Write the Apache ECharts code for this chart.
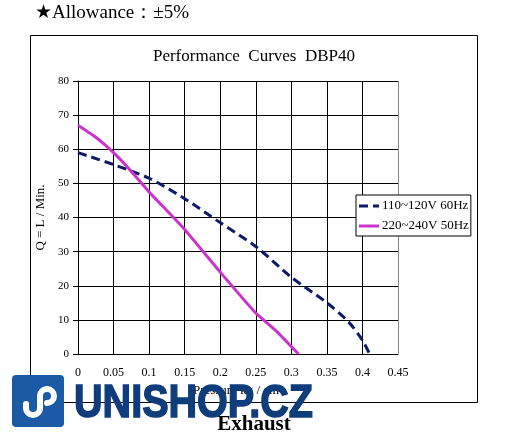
<!DOCTYPE html>
<html>
<head>
<meta charset="utf-8">
<script src="https://cdn.jsdelivr.net/npm/echarts@6/dist/echarts.min.js"></script>
<style>
  html, body { margin: 0; padding: 0; background: #fff; }
  #main { width: 508px; height: 440px; }
</style>
</head>
<body>
<div id="main"></div>
<script>
  // pressure (kg/cm2) vs flow (L/min)
  const press60 = [0, 0.05, 0.1, 0.15, 0.2, 0.25, 0.3, 0.35, 0.38, 0.4, 0.41]
  const flow60 = [59, 55.5, 51.5, 45.5, 38.5, 31.5, 22.5, 15, 9.5, 4, 0]
  const press50 = [0, 0.025, 0.05, 0.075, 0.1, 0.15, 0.2, 0.25, 0.28, 0.31]
  const flow50 = [67, 63.5, 59, 53.5, 47.5, 36.5, 24, 12, 6.5, 0]
  const seriesNames = ['110~120V 60Hz', '220~240V 50Hz']

  const serif = '"Liberation Serif", "DejaVu Serif", serif'
  const pairs = (xs, ys) => xs.map((x, i) => [x, ys[i]])

  // last vertical grid line (0.45) is grey in the original
  const xSplitColors = ['#000', '#000', '#000', '#000', '#000', '#000', '#000', '#000', '#000', '#888']

  const white = { fill: 'none', stroke: '#fff', lineWidth: 6, lineCap: 'round' }

  const chart = echarts.init(document.getElementById('main'))
  chart.setOption({
    animation: false,
    backgroundColor: '#fff',
    title: {
      text: 'Performance  Curves  DBP40',
      left: 'center',
      top: 43,
      textStyle: { fontFamily: serif, fontSize: 17, fontWeight: 'normal', color: '#000' }
    },
    legend: {
      left: 356,
      top: 195,
      orient: 'vertical',
      itemGap: 6,
      itemWidth: 22,
      itemHeight: 3,
      padding: [4, 2, 3, 3],
      borderColor: '#000',
      borderWidth: 1,
      backgroundColor: '#fff',
      textStyle: { fontFamily: serif, fontSize: 13, color: '#000', padding: [0, 0, 0, -3], lineHeight: 14 },
      data: [
        { name: seriesNames[0], icon: 'path://M0,0 H9 V3 H0 Z M14,0 H20 V3 H14 Z' },
        { name: seriesNames[1], icon: 'path://M0,0 H20 V3 H0 Z' }
      ]
    },
    grid: { left: 78, top: 81, right: 110, bottom: 86 },
    xAxis: {
      type: 'value',
      min: 0,
      max: 0.45,
      interval: 0.05,
      name: 'Pressure kg / cm²',
      nameLocation: 'middle',
      nameGap: 28,
      nameTextStyle: { fontFamily: serif, fontSize: 13, color: '#000' },
      axisLine: { lineStyle: { color: '#000', width: 1 } },
      axisTick: { show: false },
      axisLabel: { fontFamily: serif, fontSize: 12, color: '#000', margin: 13 },
      splitLine: { show: true, lineStyle: { color: xSplitColors, width: 1 } }
    },
    yAxis: {
      type: 'value',
      min: 0,
      max: 80,
      interval: 10,
      name: 'Q = L / Min.',
      nameLocation: 'middle',
      nameGap: 30,
      nameTextStyle: { fontFamily: serif, fontSize: 13, color: '#000' },
      axisLine: { show: true, lineStyle: { color: '#000', width: 1 } },
      axisTick: { show: true, length: 5, lineStyle: { color: '#000' } },
      axisLabel: { fontFamily: serif, fontSize: 11, color: '#000', margin: 9 },
      splitLine: { show: true, lineStyle: { color: '#000', width: 1 } }
    },
    series: [
      {
        name: seriesNames[0],
        type: 'line',
        smooth: 0.3,
        symbol: 'none',
        data: pairs(press60, flow60),
        itemStyle: { color: '#0d1a66' },
        lineStyle: { color: '#0d1a66', width: 3, type: [9, 5] }
      },
      {
        name: seriesNames[1],
        type: 'line',
        smooth: 0.1,
        symbol: 'none',
        data: pairs(press50, flow50),
        itemStyle: { color: '#cc33cc' },
        lineStyle: { color: '#cc33cc', width: 3 }
      }
    ],
    graphic: [
      // outer frame
      {
        type: 'rect', z: -1,
        shape: { x: 30.5, y: 35.5, width: 447, height: 367 },
        style: { fill: 'none', stroke: '#000', lineWidth: 1 }
      },
      {
        type: 'text', x: 35, y: 4,
        style: { text: '★Allowance：±5%', font: '19px ' + serif, fill: '#000' }
      },
      {
        type: 'text', x: 254, y: 414,
        style: { text: 'Exhaust', font: 'bold 21px ' + serif, fill: '#000', align: 'center' }
      },
      // watermark logo
      {
        type: 'rect', z: 100,
        shape: { x: 12, y: 375, width: 52, height: 52, r: 4 },
        style: { fill: '#1c5aa6' }
      },
      { type: 'line', z: 101, shape: { x1: 40, y1: 396, x2: 40, y2: 408 }, style: white },
      { type: 'line', z: 101, shape: { x1: 26, y1: 408, x2: 26, y2: 404 }, style: white },
      { type: 'arc', z: 101, shape: { cx: 33, cy: 408, r: 7, startAngle: 0, endAngle: Math.PI, clockwise: true }, style: white },
      { type: 'arc', z: 101, shape: { cx: 47, cy: 396, r: 7, startAngle: Math.PI, endAngle: Math.PI * 2.5, clockwise: true }, style: white },
      {
        type: 'text', z: 100, x: 74, y: 381, scaleX: 0.86,
        style: { text: 'UNISHOP.CZ', font: '900 46px "Liberation Sans", Arial, sans-serif', fill: '#0f3d7c', stroke: '#0f3d7c', lineWidth: 1.5 }
      }
    ]
  })
</script>
</body>
</html>
